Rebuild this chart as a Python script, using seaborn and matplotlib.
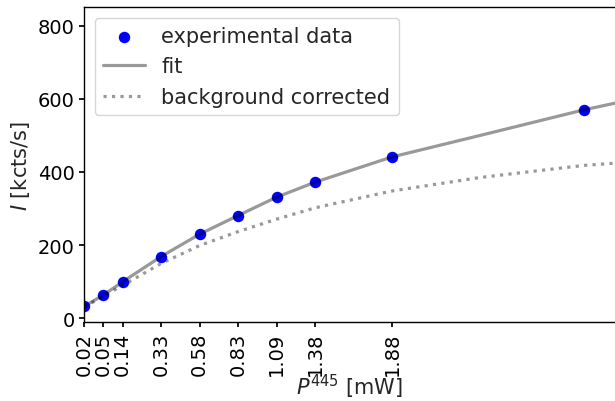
import matplotlib
matplotlib.use("Agg")
import matplotlib.pyplot as plt
import seaborn as sns
import pandas as pd

# measurement positions (setpoint index) and their power labels
x_data = [0, 1, 2, 4, 6, 8, 10, 12, 16, 26]
intensity = [33, 64, 100, 169, 230, 281, 331, 372, 441, 570]
tick_pos = [0, 1, 2, 4, 6, 8, 10, 12, 16]
tick_labels = ["0.02", "0.05", "0.14", "0.33", "0.58", "0.83", "1.09", "1.38", "1.88"]

# fit curve
x_fit = [0, 1, 2, 4, 6, 8, 10, 12, 16, 20.6, 26, 27.6]
y_fit = [33, 64, 100, 169, 230, 281, 331, 372, 441, 500, 570, 588]

# background corrected curve
x_bg = [0, 1, 2, 4, 6, 8, 10, 12, 16, 20.6, 26, 27.6]
y_bg = [31, 61, 90, 150, 199, 237, 271, 302, 348, 385, 418, 424]

sns.set_theme(style="ticks")
plt.rcParams["font.family"] = ["DejaVu Sans"]
plt.rcParams["mathtext.fontset"] = "dejavusans"

FS = 15
TFS = 14
fig = plt.figure(figsize=(6.15, 4.02), dpi=100)
ax = fig.add_axes([0.137, 0.1965, 0.863, 0.7829])

df_data = pd.DataFrame({"x": x_data, "y": intensity})
df_fit = pd.DataFrame({"x": x_fit, "y": y_fit})
df_bg = pd.DataFrame({"x": x_bg, "y": y_bg})

sns.scatterplot(data=df_data, x="x", y="y", ax=ax, color="#0000ff", s=68,
                linewidth=0, label="experimental data", zorder=2)
sns.lineplot(data=df_fit, x="x", y="y", ax=ax, color="black", alpha=0.4,
             linewidth=2.3, sort=False, estimator=None, label="fit", zorder=3)
sns.lineplot(data=df_bg, x="x", y="y", ax=ax, color="black", alpha=0.4,
             linewidth=2.3, linestyle=":", sort=False, estimator=None,
             label="background corrected", zorder=3)

ax.set_xlim(0, 27.6)
ax.set_ylim(-10, 850)
ax.set_yticks([0, 200, 400, 600, 800])
ax.set_xticks(tick_pos)
ax.set_xticklabels(tick_labels, rotation=90)
ax.tick_params(labelsize=TFS, colors="black", length=3.5, pad=3.5)
ax.set_xlabel("$P^{445}$ [mW]", fontsize=FS, labelpad=-2.5)
ax.set_ylabel("$I$ [kcts/s]", fontsize=FS, labelpad=4)
for s in ax.spines.values():
    s.set_color("black")
    s.set_linewidth(1.0)
ax.spines["right"].set_visible(False)

leg = ax.legend(loc="upper left", fontsize=FS, frameon=True, borderaxespad=0.5)
leg.get_frame().set_edgecolor("#cccccc")

fig.savefig("out.png", dpi=100)
